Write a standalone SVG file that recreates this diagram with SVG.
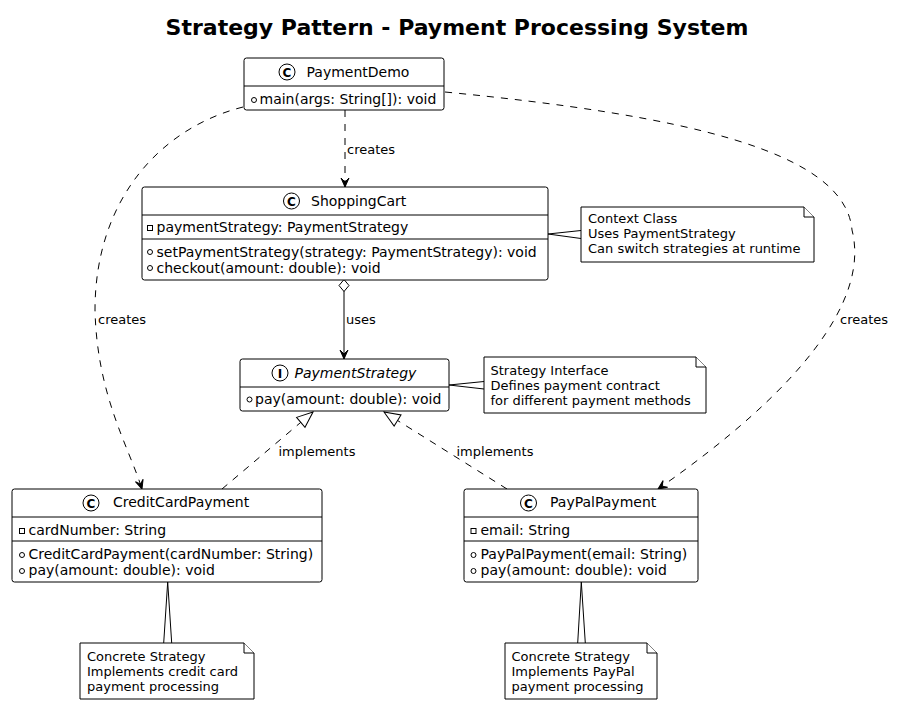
<svg xmlns="http://www.w3.org/2000/svg" width="922" height="705" viewBox="0 0 922 705">
<defs>
<style>
text{font-family:"DejaVu Sans","Liberation Sans",sans-serif;font-size:13px;fill:#000}
.title{font-size:22px;font-weight:bold}
.cls{font-size:14px}
.box{fill:#fff;stroke:#000;stroke-width:1}
.sep{stroke:#000;stroke-width:1}
.icon{fill:#fff;stroke:#000;stroke-width:1}
.ic{font-size:12px;font-weight:bold;text-anchor:middle}
.vis{fill:none;stroke:#000;stroke-width:1}
.note{fill:#fff;stroke:#000;stroke-width:1}
.dash{fill:none;stroke:#000;stroke-width:1;stroke-dasharray:7,7}
.solid{fill:none;stroke:#000;stroke-width:1}
</style>
<marker id="vee" viewBox="-10 -5 11 10" markerWidth="11" markerHeight="10" refX="0" refY="0" orient="auto" markerUnits="userSpaceOnUse">
<path d="M0,0 L-9,-4 L-5,0 L-9,4 Z" fill="#000" stroke="#000" stroke-width="1" stroke-dasharray="none"/>
</marker>
<marker id="tri" viewBox="-17 -8 18 16" markerWidth="18" markerHeight="16" refX="0" refY="0" orient="auto" markerUnits="userSpaceOnUse">
<path d="M0,0 L-16,-6.5 L-16,6.5 Z" fill="#fff" stroke="#000" stroke-width="1" stroke-dasharray="none"/>
</marker>
</defs>
<rect width="922" height="705" fill="#fff"/>
<text class="title" x="457" y="35" text-anchor="middle">Strategy Pattern - Payment Processing System</text>

<g id="connectors">
<path class="dash" d="M345,110 L345,187" marker-end="url(#vee)"/>
<text x="347" y="153.5">creates</text>
<path class="solid" d="M344,291 L344,359" marker-end="url(#vee)"/>
<path d="M344,279.5 L349,285.5 L344,291.5 L339,285.5 Z" fill="#fff" stroke="#000" stroke-width="1"/>
<text x="346" y="323.5">uses</text>
<path class="dash" d="M243,107 C160,128 95,200 95,310 C97,395 128,445 142,489" marker-end="url(#vee)"/>
<text x="98" y="324">creates</text>
<path class="dash" d="M445,92 C680,115 845,150 852,230 C870,300 800,390 658,489" marker-end="url(#vee)"/>
<text x="840" y="324">creates</text>
<path class="dash" d="M222,489 L313,412" marker-end="url(#tri)"/>
<text x="278.5" y="456">implements</text>
<path class="dash" d="M507,489 L384,412" marker-end="url(#tri)"/>
<text x="456.5" y="456">implements</text>
<polyline class="note" points="581,230.5 548,234 581,238.5"/>
<polyline class="note" points="484,381.5 449,385 484,389"/>
<polyline class="note" points="163.7,643 167.7,582 171.7,643"/>
<polyline class="note" points="577.7,643 581.3,582 585.3,643"/>
</g>

<g id="PaymentDemo">
<rect class="box" x="244" y="58" width="200" height="52" rx="2.5"/>
<line class="sep" x1="244" y1="86" x2="444" y2="86"/>
<circle class="icon" cx="287" cy="72" r="8"/>
<text class="ic" x="287" y="76.5">C</text>
<text class="cls" x="306.5" y="77">PaymentDemo</text>
<circle class="vis" cx="254" cy="100" r="2.5"/>
<text class="cls" x="259.5" y="104">main(args: String[]): void</text>
</g>

<g id="ShoppingCart">
<rect class="box" x="142" y="187" width="406" height="93" rx="2.5"/>
<line class="sep" x1="142" y1="215" x2="548" y2="215"/>
<line class="sep" x1="142" y1="239" x2="548" y2="239"/>
<circle class="icon" cx="291.5" cy="201" r="8"/>
<text class="ic" x="291.5" y="205.5">C</text>
<text class="cls" x="311" y="206">ShoppingCart</text>
<rect class="vis" x="147.5" y="225.5" width="5" height="5"/>
<text class="cls" x="156.5" y="232">paymentStrategy: PaymentStrategy</text>
<circle class="vis" cx="150" cy="252" r="2.5"/>
<text class="cls" x="156.5" y="256.5">setPaymentStrategy(strategy: PaymentStrategy): void</text>
<circle class="vis" cx="150" cy="268" r="2.5"/>
<text class="cls" x="156.5" y="272.5">checkout(amount: double): void</text>
</g>

<g id="PaymentStrategy">
<rect class="box" x="240" y="359" width="209" height="52" rx="2.5"/>
<line class="sep" x1="240" y1="387" x2="449" y2="387"/>
<circle class="icon" cx="280" cy="373" r="8"/>
<text class="ic" x="280" y="377.5">I</text>
<text class="cls" x="294.5" y="377.5" font-style="italic">PaymentStrategy</text>
<circle class="vis" cx="249.5" cy="399.5" r="2.5"/>
<text class="cls" x="255" y="404">pay(amount: double): void</text>
</g>

<g id="CreditCardPayment">
<rect class="box" x="12" y="489" width="310" height="93" rx="2.5"/>
<line class="sep" x1="12" y1="517" x2="322" y2="517"/>
<line class="sep" x1="12" y1="541" x2="322" y2="541"/>
<circle class="icon" cx="91" cy="503" r="8"/>
<text class="ic" x="91" y="507.5">C</text>
<text class="cls" x="113" y="507">CreditCardPayment</text>
<rect class="vis" x="19.5" y="528.5" width="5" height="5"/>
<text class="cls" x="28.5" y="534.5">cardNumber: String</text>
<circle class="vis" cx="22" cy="555" r="2.5"/>
<text class="cls" x="28.5" y="558.5">CreditCardPayment(cardNumber: String)</text>
<circle class="vis" cx="22" cy="571" r="2.5"/>
<text class="cls" x="28.5" y="574.5">pay(amount: double): void</text>
</g>

<g id="PayPalPayment">
<rect class="box" x="464" y="489" width="234" height="93" rx="2.5"/>
<line class="sep" x1="464" y1="517" x2="698" y2="517"/>
<line class="sep" x1="464" y1="541" x2="698" y2="541"/>
<circle class="icon" cx="528.5" cy="503" r="8"/>
<text class="ic" x="528.5" y="507.5">C</text>
<text class="cls" x="550" y="507">PayPalPayment</text>
<rect class="vis" x="471" y="528.5" width="5" height="5"/>
<text class="cls" x="480.5" y="534.5">email: String</text>
<circle class="vis" cx="473.5" cy="555" r="2.5"/>
<text class="cls" x="480.5" y="558.5">PayPalPayment(email: String)</text>
<circle class="vis" cx="473.5" cy="571" r="2.5"/>
<text class="cls" x="480.5" y="574.5">pay(amount: double): void</text>
</g>

<g id="note-context">
<path class="note" d="M581,207 L804,207 L814,217 L814,262 L581,262 Z"/>
<path class="note" d="M804,207 L804,217 L814,217"/>
<text x="588" y="223">Context Class</text>
<text x="588" y="238.2">Uses PaymentStrategy</text>
<text x="588" y="253.4">Can switch strategies at runtime</text>
</g>

<g id="note-strategy">
<path class="note" d="M484,357 L696,357 L706,367 L706,413 L484,413 Z"/>
<path class="note" d="M696,357 L696,367 L706,367"/>
<text x="490.5" y="375">Strategy Interface</text>
<text x="490.5" y="390.2">Defines payment contract</text>
<text x="490.5" y="405.4">for different payment methods</text>
</g>

<g id="note-credit">
<path class="note" d="M80,643 L244,643 L254,653 L254,699 L80,699 Z"/>
<path class="note" d="M244,643 L244,653 L254,653"/>
<text x="87" y="661">Concrete Strategy</text>
<text x="87" y="676.2">Implements credit card</text>
<text x="87" y="691.4">payment processing</text>
</g>

<g id="note-paypal">
<path class="note" d="M505,643 L647,643 L657,653 L657,699 L505,699 Z"/>
<path class="note" d="M647,643 L647,653 L657,653"/>
<text x="511.5" y="661">Concrete Strategy</text>
<text x="511.5" y="676.2">Implements PayPal</text>
<text x="511.5" y="691.4">payment processing</text>
</g>
</svg>
